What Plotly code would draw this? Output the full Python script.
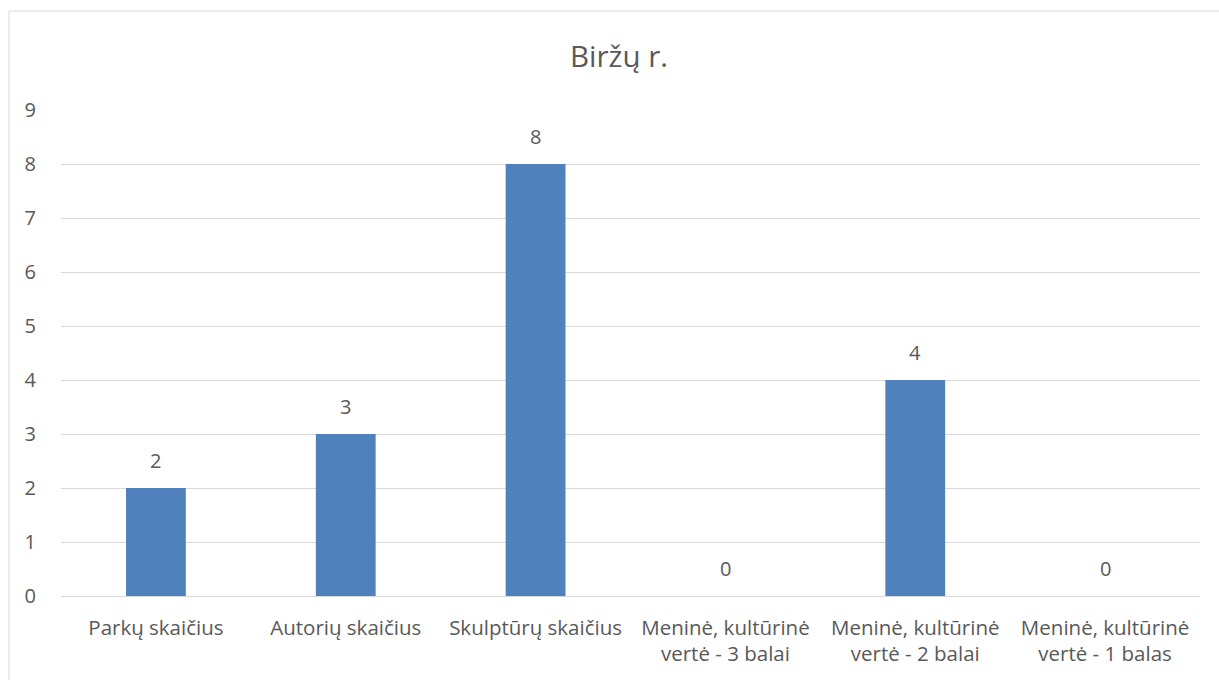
import plotly.graph_objects as go

categories = [
    "Parkų skaičius",
    "Autorių skaičius",
    "Skulptūrų skaičius",
    "Meninė, kultūrinė<br>vertė - 3 balai",
    "Meninė, kultūrinė<br>vertė - 2 balai",
    "Meninė, kultūrinė<br>vertė - 1 balas",
]
values = [2, 3, 8, 0, 4, 0]
y_ticks = [0, 1, 2, 3, 4, 5, 6, 7, 8, 9]
title_text = "Biržų r."

FONT = "Open Sans"
TXT = "#595959"
GRID = "#d9d9d9"

W, H = 1219, 680
L, R, T, B = 61, 19, 110, 84
pw, ph = W - L - R, H - T - B

fig = go.Figure()
fig.add_trace(go.Bar(
    x=categories, y=values, width=0.315,
    marker=dict(color="#4f81bd", line=dict(width=0)),
    hoverinfo="x+y",
))

for c, v in zip(categories, values):
    fig.add_annotation(
        x=c, y=v, text=str(v), showarrow=False,
        yanchor="bottom", yshift=12,
        font=dict(family=FONT, size=20, color=TXT),
    )

# outer chart border
fig.add_shape(
    type="rect", xref="paper", yref="paper",
    x0=(9 - L) / pw, x1=(W + 5 - L) / pw,
    y0=-(B + 5) / ph, y1=1 + (T - 11) / ph,
    line=dict(color=GRID, width=1), fillcolor="rgba(0,0,0,0)", layer="below",
)

fig.update_layout(
    width=W, height=H,
    margin=dict(l=L, r=R, t=T, b=B, pad=0),
    paper_bgcolor="white", plot_bgcolor="white",
    showlegend=False,
    title=dict(
        text=title_text, x=619 / W, xanchor="center",
        y=1 - 57 / H, yanchor="middle", xref="container", yref="container",
        font=dict(family=FONT, size=29.5, color=TXT),
    ),
    font=dict(family=FONT, color=TXT),
    xaxis=dict(
        showgrid=False, zeroline=False, showline=False,
        ticks="outside", ticklen=13, tickcolor="rgba(0,0,0,0)",
        tickfont=dict(family=FONT, size=20.5, color=TXT),
    ),
    yaxis=dict(
        range=[0, 9], tickvals=y_ticks,
        showgrid=True, gridcolor=GRID, gridwidth=1,
        zeroline=True, zerolinecolor=GRID, zerolinewidth=1,
        showline=False,
        ticks="outside", ticklen=20, tickcolor="rgba(0,0,0,0)",
        tickfont=dict(family=FONT, size=20, color=TXT),
        fixedrange=True,
    ),
)

fig.write_html(
    "out.html",
    config={"displayModeBar": False},
    post_script="document.body.style.margin='0';document.body.style.overflow='hidden';",
)
